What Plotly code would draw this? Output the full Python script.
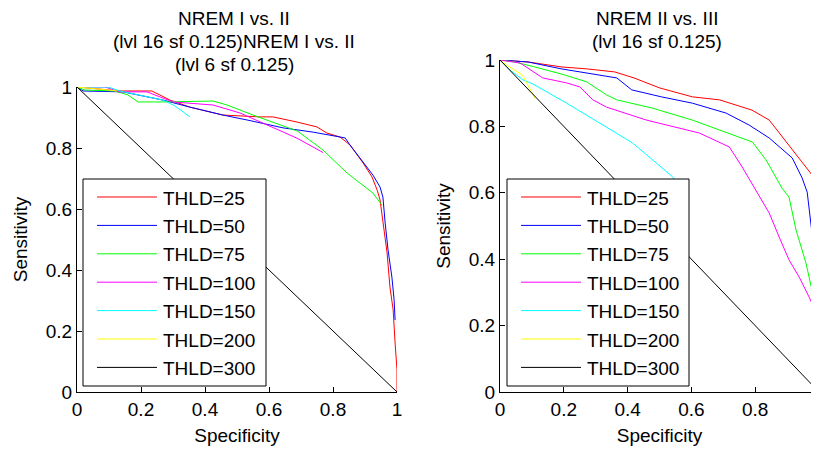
import plotly.graph_objects as go

# page body has an 8px margin, so the figure is sized to fill the rest of the 819x450 window
OFF = 8
W, H = 819 - OFF, 450 - OFF
FONT = "Liberation Sans, Arial, sans-serif"

thresholds = ["THLD=25", "THLD=50", "THLD=75", "THLD=100", "THLD=150", "THLD=200", "THLD=300"]
colors = ["#ff0000", "#0000ff", "#00ff00", "#ff00ff", "#00ffff", "#ffff00", "#000000"]

tick_vals = [0, 0.2, 0.4, 0.6, 0.8, 1]
tick_text = ["0", "0.2", "0.4", "0.6", "0.8", "1"]

left_title = ["NREM I vs. II", "(lvl 16 sf 0.125)NREM I vs. II", "(lvl 6 sf 0.125)"]
right_title = ["NREM II vs. III", "(lvl 16 sf 0.125)"]

# NREM I vs. II (left panel)
a_spec_25 = [0, 0.134, 0.234, 0.291, 0.353, 0.456, 0.572, 0.612, 0.688, 0.75, 0.781, 0.822, 0.853,
             0.894, 0.922, 0.938, 0.947, 0.956, 0.969, 0.978, 0.988, 0.994, 1.0, 1.0]
a_sens_25 = [1, 0.987, 0.987, 0.957, 0.934, 0.908, 0.902, 0.902, 0.885, 0.869, 0.849, 0.836, 0.810,
             0.751, 0.705, 0.662, 0.630, 0.564, 0.456, 0.344, 0.269, 0.161, 0.072, 0]
a_spec_50 = [0, 0.019, 0.144, 0.269, 0.353, 0.456, 0.531, 0.644, 0.738, 0.838, 0.853, 0.894, 0.925,
             0.947, 0.956, 0.963, 0.972, 0.984, 0.991, 0.994]
a_sens_50 = [1, 0.987, 0.984, 0.957, 0.934, 0.908, 0.892, 0.866, 0.852, 0.833, 0.810, 0.754, 0.711,
             0.672, 0.639, 0.554, 0.466, 0.377, 0.302, 0.236]
a_spec_75 = [0, 0.025, 0.119, 0.159, 0.191, 0.269, 0.425, 0.469, 0.55, 0.69, 0.769, 0.844, 0.925, 0.953]
a_sens_75 = [1, 0.990, 0.987, 0.974, 0.951, 0.951, 0.954, 0.941, 0.908, 0.855, 0.793, 0.718, 0.652, 0.613]
a_spec_100 = [0, 0.088, 0.134, 0.219, 0.3, 0.425, 0.509, 0.594, 0.688, 0.769]
a_sens_100 = [1, 1.0, 0.984, 0.984, 0.951, 0.941, 0.915, 0.875, 0.832, 0.785]
a_spec_150 = [0, 0.097, 0.134, 0.219, 0.269, 0.306, 0.353]
a_sens_150 = [1, 1.0, 0.987, 0.967, 0.957, 0.938, 0.902]
a_spec_200 = [0, 0.04, 0.1, 0.125]
a_sens_200 = [1, 0.997, 0.99, 0.987]
a_spec_300 = [0, 0.25, 0.5, 0.75, 1]
a_sens_300 = [1, 0.75, 0.5, 0.25, 0]

# NREM II vs. III (right panel)
b_spec_25 = [0, 0.088, 0.194, 0.275, 0.36, 0.42, 0.5, 0.603, 0.688, 0.79, 0.844, 0.897, 0.938,
             0.978, 0.981, 0.984, 0.991, 1.0]
b_sens_25 = [1, 0.994, 0.979, 0.973, 0.964, 0.946, 0.916, 0.889, 0.880, 0.849, 0.819, 0.753, 0.705,
             0.654, 0.563, 0.428, 0.277, 0]
b_spec_50 = [0, 0.088, 0.194, 0.275, 0.366, 0.413, 0.506, 0.603, 0.709, 0.781, 0.844, 0.916, 0.947,
             0.963, 0.969, 0.978, 0.991, 0.994]
b_sens_50 = [1, 0.994, 0.973, 0.961, 0.946, 0.910, 0.889, 0.870, 0.840, 0.804, 0.765, 0.705, 0.645,
             0.602, 0.548, 0.479, 0.389, 0.298]
b_spec_75 = [0, 0.047, 0.109, 0.203, 0.272, 0.334, 0.366, 0.478, 0.603, 0.709, 0.791, 0.834, 0.884,
             0.906, 0.928, 0.959, 0.978, 0.991, 0.994, 0.997]
b_sens_75 = [1, 0.994, 0.979, 0.955, 0.934, 0.895, 0.880, 0.855, 0.819, 0.783, 0.753, 0.699, 0.614,
             0.587, 0.488, 0.389, 0.307, 0.238, 0.136, 0.036]
b_spec_100 = [0, 0.063, 0.134, 0.209, 0.25, 0.291, 0.334, 0.459, 0.625, 0.719, 0.759, 0.813, 0.844,
              0.875, 0.906, 0.938, 0.969, 0.991]
b_sens_100 = [1, 0.991, 0.946, 0.931, 0.919, 0.880, 0.858, 0.819, 0.780, 0.738, 0.678, 0.587, 0.539,
              0.467, 0.398, 0.346, 0.286, 0.238]
b_spec_150 = [0, 0.031, 0.072, 0.103, 0.209, 0.313, 0.416, 0.541, 0.58]
b_sens_150 = [1, 0.970, 0.940, 0.928, 0.870, 0.810, 0.750, 0.648, 0.593]
b_spec_200 = [0, 0.02, 0.07, 0.095, 0.11]
b_sens_200 = [1, 0.985, 0.955, 0.91, 0.885]
b_spec_300 = [0, 0.25, 0.5, 0.75, 1]
b_sens_300 = [1, 0.75, 0.5, 0.25, 0]

left_x = [a_spec_25, a_spec_50, a_spec_75, a_spec_100, a_spec_150, a_spec_200, a_spec_300]
left_y = [a_sens_25, a_sens_50, a_sens_75, a_sens_100, a_sens_150, a_sens_200, a_sens_300]
right_x = [b_spec_25, b_spec_50, b_spec_75, b_spec_100, b_spec_150, b_spec_200, b_spec_300]
right_y = [b_sens_25, b_sens_50, b_sens_75, b_sens_100, b_sens_150, b_sens_200, b_sens_300]


def fx(p):
    # window pixel -> paper fraction
    return (p - OFF) / W


def fy(p):
    return 1 - (p - OFF) / H


fig = go.Figure()

for i in range(len(thresholds)):
    fig.add_trace(go.Scatter(x=left_x[i], y=left_y[i], mode="lines", name=thresholds[i],
                             line=dict(color=colors[i], width=1), xaxis="x", yaxis="y",
                             showlegend=False))
for i in range(len(thresholds)):
    fig.add_trace(go.Scatter(x=right_x[i], y=right_y[i], mode="lines", name=thresholds[i],
                             line=dict(color=colors[i], width=1), xaxis="x2", yaxis="y2",
                             showlegend=False))

tfont = dict(family=FONT, size=19, color="black")
axis_style = dict(range=[0, 1], tickvals=tick_vals, ticktext=tick_text, ticks="inside", ticklen=5,
                  tickwidth=1, tickcolor="black", showline=True, linecolor="black", linewidth=1,
                  showgrid=False, zeroline=False, tickfont=tfont, fixedrange=True)

fig.update_layout(
    width=W, height=H,
    paper_bgcolor="white", plot_bgcolor="white",
    margin=dict(l=0, r=0, t=0, b=0, autoexpand=False),
    showlegend=False,
    xaxis=dict(axis_style, domain=[fx(77), fx(397)], anchor="y",
               title=dict(text="Specificity", font=tfont, standoff=9)),
    yaxis=dict(axis_style, domain=[fy(392), fy(87)], anchor="x",
               title=dict(text="Sensitivity", font=tfont, standoff=13)),
    xaxis2=dict(axis_style, domain=[fx(500), 1.0], anchor="y2", ticklabeloverflow="allow",
                title=dict(text="Specificity", font=tfont, standoff=9)),
    yaxis2=dict(axis_style, domain=[fy(392), fy(60)], anchor="x2",
                title=dict(text="Sensitivity", font=tfont, standoff=13)),
)

# titles, one annotation per line (MATLAB line spacing is tighter than plotly's)
for xc, lines in [(234, left_title), (657, right_title)]:
    for k, line in enumerate(lines):
        fig.add_annotation(text=line, xref="paper", yref="paper", x=fx(xc), y=fy(18 + 23.5 * k),
                           xanchor="center", yanchor="middle", showarrow=False, font=tfont)

# legends (box, sample lines, labels)
legend_boxes = [(83, 179, 266, 386), (507, 179, 689, 386)]
step = 28.4
for (x0, y0, x1, y1) in legend_boxes:
    fig.add_shape(type="rect", xref="paper", yref="paper", x0=fx(x0), x1=fx(x1), y0=fy(y0), y1=fy(y1),
                  fillcolor="white", line=dict(color="black", width=1), layer="above")
    for i, name in enumerate(thresholds):
        yc = y0 + 18 + step * i
        fig.add_shape(type="line", xref="paper", yref="paper", x0=fx(x0 + 14), x1=fx(x0 + 74),
                      y0=fy(yc), y1=fy(yc), line=dict(color=colors[i], width=1), layer="above")
        fig.add_annotation(text=name, xref="paper", yref="paper", x=fx(x0 + 78), y=fy(yc + 1),
                           xanchor="left", yanchor="middle", showarrow=False, font=tfont)

fig.write_html("out.html")
